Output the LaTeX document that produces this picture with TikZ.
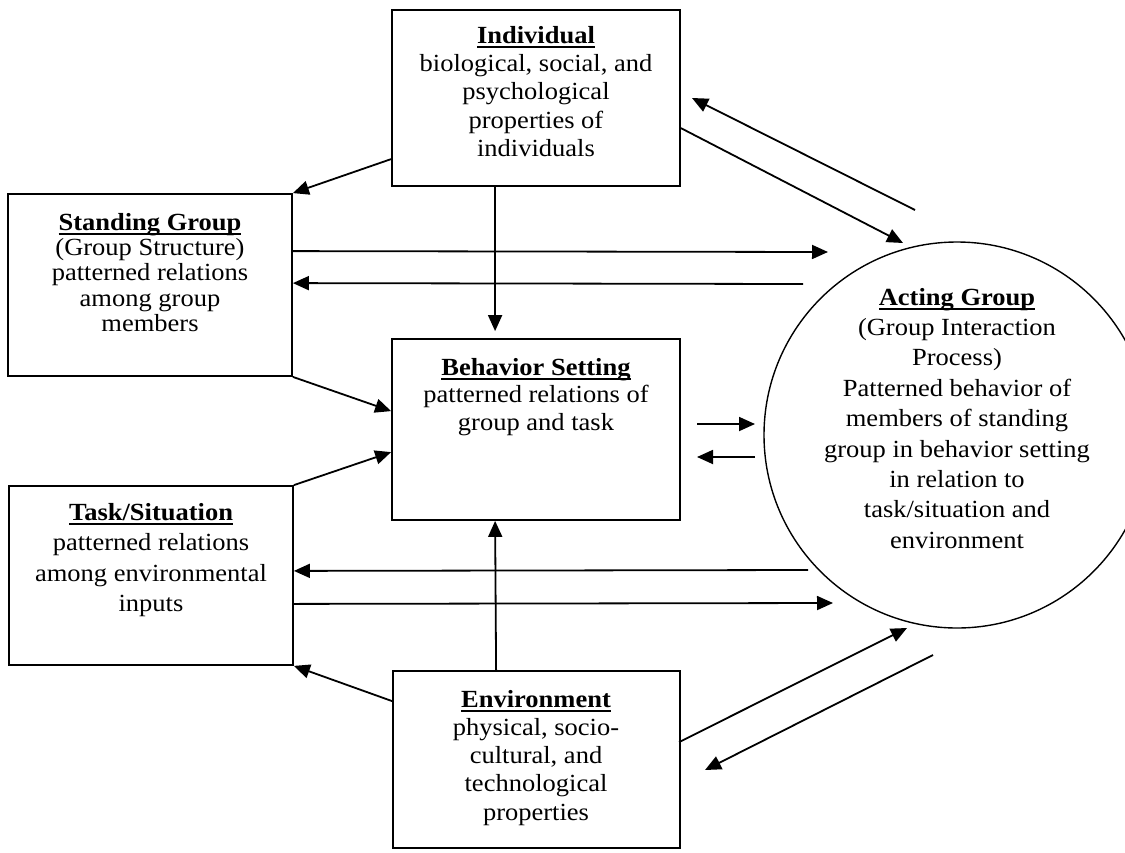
\documentclass[tikz,border=0pt]{standalone}
\usepackage{fontspec}
\setmainfont{Liberation Serif}
\usepackage{graphicx}
\usetikzlibrary{arrows.meta,calc}

% centred block of lines, slightly condensed vertically
\newcommand\blocktext[2]{\scalebox{1}[0.93]{\parbox[t]{340pt}{\centering\fontsize{26.5}{#1}\selectfont #2}}}
% bold heading with a heavy underline
\newsavebox\headbox
\newcommand\head[1]{\leavevmode\sbox\headbox{\textbf{#1}}\rlap{\rule[-5.7pt]{\wd\headbox}{2.2pt}}\usebox\headbox}

\begin{document}
\begin{tikzpicture}[x=1pt,y=-1pt,
  box/.style={draw, line width=1.8pt, rectangle, inner sep=0pt},
  roundbox/.style={draw, line width=1.4pt, circle, inner sep=0pt, minimum size=386pt},
  lbl/.style={inner sep=0pt, anchor=base},
  conn/.style={line width=1.8pt, -{Triangle[length=16pt,width=14pt]}}]

\useasboundingbox (0,0) rectangle (1125,852);

% boxes
\node[box, minimum width=288pt, minimum height=176pt] (ind)  at (536,98) {};
\node[box, minimum width=284pt, minimum height=182pt] (sg)   at (150,285) {};
\node[box, minimum width=288pt, minimum height=181pt] (beh)  at (536,429.5) {};
\node[box, minimum width=284pt, minimum height=179pt] (task) at (151,575.5) {};
\node[box, minimum width=287pt, minimum height=177pt] (env)  at (536.5,759.5) {};
\node[roundbox] (act) at (957,435) {};

% texts
\node[lbl] (indt) at (536,43) {\blocktext{30.6}{\head{Individual}\\biological, social, and\\psychological\\properties of\\individuals}};
\node[lbl] (sgt) at (150,230) {\blocktext{27.3}{\head{Standing Group}\\(Group Structure)\\patterned relations\\among group\\members}};
\node[lbl] (beht) at (536,375) {\blocktext{29.6}{\head{Behavior Setting}\\patterned relations of\\group and task}};
\node[lbl] (taskt) at (151,520) {\blocktext{32.8}{\head{Task/Situation}\\patterned relations\\among environmental\\inputs}};
\node[lbl] (envt) at (536,707) {\blocktext{30.4}{\head{Environment}\\physical, socio-\\cultural, and\\technological\\properties}};
\node[lbl] (actt) at (957,305) {\blocktext{32.7}{\head{Acting Group}\\(Group Interaction\\Process)\\Patterned behavior of\\members of standing\\group in behavior setting\\in relation to\\task/situation and\\environment}};

% free ends of the connectors
\coordinate (p1) at (828,252);
\coordinate (p2) at (803,284);
\coordinate (p3) at (808,570);
\coordinate (p4) at (833,603);
\coordinate (q1) at (697,424);
\coordinate (q2) at (755,424);
\coordinate (q3) at (755,457);
\coordinate (q4) at (697,457);
\coordinate (r1) at (915,210);
\coordinate (r2) at (692,98);
\coordinate (r3) at (903,243);
\coordinate (r4) at (907,628);
\coordinate (r5) at (933,655);
\coordinate (r6) at (705,770);

% connectors among the boxes
\draw[conn] ($(ind.north west)+(0,150)$) -- (sg.north east);
\draw[conn] ($(ind.south west)+(104,0)$) -- ($(beh.north west)+(104,-7)$);
\draw[conn] ($(env.north west)+(104,0)$) -- ($(beh.south west)+(104,0)$);
\draw[conn] ($(env.north west)+(0,31)$) -- (task.south east);
\draw[conn] (sg.south east) -- ($(beh.north west)+(0,73)$);
\draw[conn] (task.north east) -- ($(beh.north west)+(0,114)$);

% connectors to and from the acting group
\draw[conn] ($(sg.north east)+(0,58)$) -- (p1);
\draw[conn] (p2) -- ($(sg.north east)+(0,90)$);
\draw[conn] (p3) -- ($(task.south east)+(0,-95)$);
\draw[conn] ($(task.south east)+(0,-62)$) -- (p4);
\draw[conn] (q1) -- (q2);
\draw[conn] (q3) -- (q4);
\draw[conn] (r1) -- (r2);
\draw[conn] ($(ind.north east)+(0,119)$) -- (r3);
\draw[conn] ($(env.north west)+(287,72)$) -- (r4);
\draw[conn] (r5) -- (r6);
\end{tikzpicture}
\end{document}
